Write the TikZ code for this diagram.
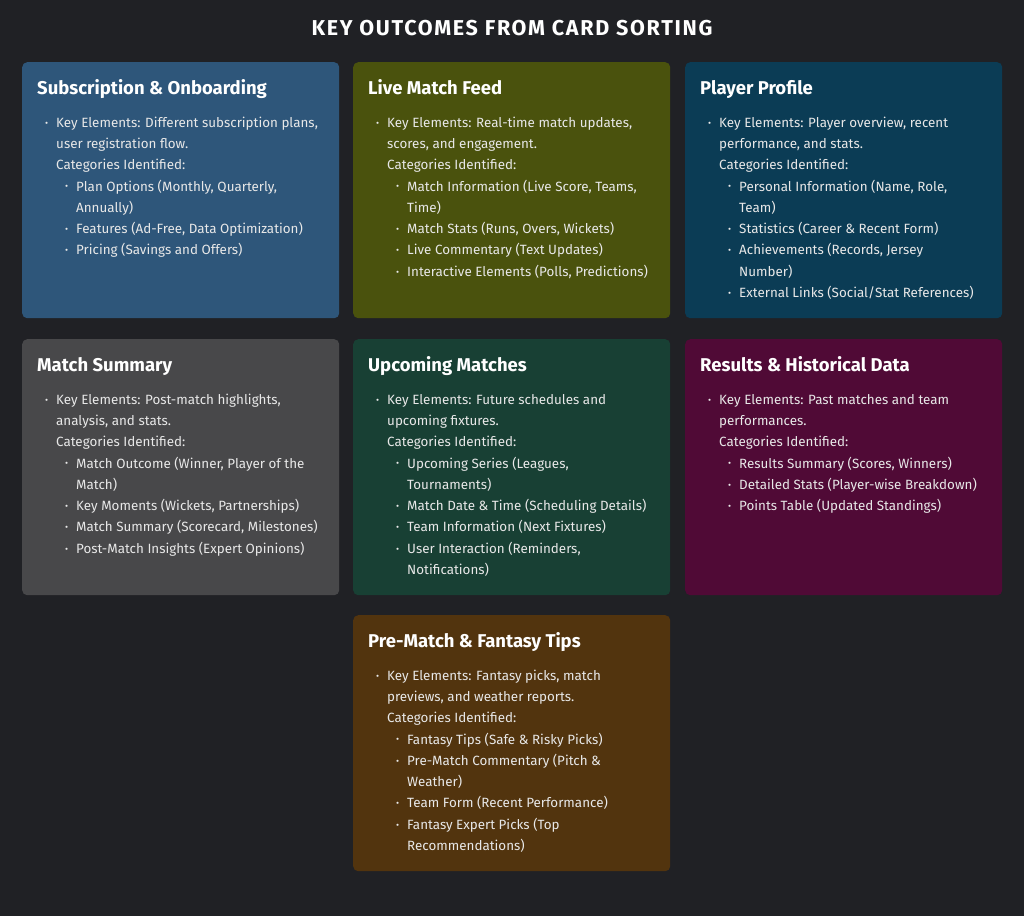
\documentclass[tikz,border=0pt]{standalone}
\usepackage{fontspec}
\setmainfont{Fira Sans}
\definecolor{pagebg}{RGB}{32,33,37}
\definecolor{cardblue}{RGB}{46,86,122}
\definecolor{cardolive}{RGB}{74,82,13}
\definecolor{cardteal}{RGB}{11,60,85}
\definecolor{cardgray}{RGB}{72,72,74}
\definecolor{cardgreen}{RGB}{24,64,52}
\definecolor{cardwine}{RGB}{80,10,54}
\definecolor{cardbrown}{RGB}{82,52,14}
\definecolor{cardtext}{RGB}{232,232,232}
\usetikzlibrary{calc}
\usetikzlibrary{positioning}
\newcommand\lvlone{\strut\makebox[11pt][l]{\raisebox{0.15ex}{\scalebox{0.7}{•}}}}
\newcommand\contone{\hspace*{11pt}}
\newcommand\lvltwo{\hspace*{20pt}\makebox[11pt][l]{\raisebox{0.15ex}{\scalebox{0.7}{•}}}}
\newcommand\conttwo{\hspace*{31pt}}
\tikzset{
  card/.style={rounded corners=5pt, inner sep=0pt, minimum width=317pt, minimum height=256pt, anchor=north west},
  cardhead/.style={anchor=base west, inner sep=0pt, text=white, font=\fontsize{18.5}{22}\selectfont\bfseries},
  cardbody/.style={anchor=north west, inner sep=0pt, align=left, text=cardtext, font=\fontsize{13.4}{21.3}\selectfont},
}

\begin{document}
\begin{tikzpicture}[x=1pt, y=-1pt]
  \fill [pagebg] (0,0) rectangle (1024,916);
  \useasboundingbox (0,0) rectangle (1024,916);

  \node [text=white, font=\fontsize{21.5}{26}\selectfont\bfseries\addfontfeature{LetterSpace=8}] (title) at (512,28) {KEY OUTCOMES FROM CARD SORTING};

  % cards
  \node [card, fill=cardblue] (sub) at (22,62) {};
  \node [card, fill=cardolive] (live) at (353,62) {};
  \node [card, fill=cardteal] (player) at (685,62) {};
  \node [card, fill=cardgray] (summary) at (22,339) {};
  \node [card, fill=cardgreen] (upcoming) at (353,339) {};
  \node [card, fill=cardwine] (results) at (685,339) {};
  \node [card, fill=cardbrown] (prematch) at (353,615) {};

  % headings
  \node [cardhead] (subHead) at ($(sub.north west)+(15,32)$) {Subscription \& Onboarding};
  \node [cardhead] (liveHead) at ($(live.north west)+(15,32)$) {Live Match Feed};
  \node [cardhead] (playerHead) at ($(player.north west)+(15,32)$) {Player Profile};
  \node [cardhead] (summaryHead) at ($(summary.north west)+(15,32)$) {Match Summary};
  \node [cardhead] (upcomingHead) at ($(upcoming.north west)+(15,32)$) {Upcoming Matches};
  \node [cardhead] (resultsHead) at ($(results.north west)+(15,32)$) {Results \& Historical Data};
  \node [cardhead] (prematchHead) at ($(prematch.north west)+(15,32)$) {Pre-Match \& Fantasy Tips};

  % bullet lists
  \node [cardbody] (subBody) at ($(sub.north west)+(23,50)$) {%
    \lvlone Key Elements: Different subscription plans,\\
    \contone user registration flow.\\
    \contone Categories Identified:\\
    \lvltwo Plan Options (Monthly, Quarterly,\\
    \conttwo Annually)\\
    \lvltwo Features (Ad-Free, Data Optimization)\\
    \lvltwo Pricing (Savings and Offers)};
  \node [cardbody] (liveBody) at ($(live.north west)+(23,50)$) {%
    \lvlone Key Elements: Real-time match updates,\\
    \contone scores, and engagement.\\
    \contone Categories Identified:\\
    \lvltwo Match Information (Live Score, Teams,\\
    \conttwo Time)\\
    \lvltwo Match Stats (Runs, Overs, Wickets)\\
    \lvltwo Live Commentary (Text Updates)\\
    \lvltwo Interactive Elements (Polls, Predictions)};
  \node [cardbody] (playerBody) at ($(player.north west)+(23,50)$) {%
    \lvlone Key Elements: Player overview, recent\\
    \contone performance, and stats.\\
    \contone Categories Identified:\\
    \lvltwo Personal Information (Name, Role,\\
    \conttwo Team)\\
    \lvltwo Statistics (Career \& Recent Form)\\
    \lvltwo Achievements (Records, Jersey\\
    \conttwo Number)\\
    \lvltwo External Links (Social/Stat References)};
  \node [cardbody] (summaryBody) at ($(summary.north west)+(23,50)$) {%
    \lvlone Key Elements: Post-match highlights,\\
    \contone analysis, and stats.\\
    \contone Categories Identified:\\
    \lvltwo Match Outcome (Winner, Player of the\\
    \conttwo Match)\\
    \lvltwo Key Moments (Wickets, Partnerships)\\
    \lvltwo Match Summary (Scorecard, Milestones)\\
    \lvltwo Post-Match Insights (Expert Opinions)};
  \node [cardbody] (upcomingBody) at ($(upcoming.north west)+(23,50)$) {%
    \lvlone Key Elements: Future schedules and\\
    \contone upcoming fixtures.\\
    \contone Categories Identified:\\
    \lvltwo Upcoming Series (Leagues,\\
    \conttwo Tournaments)\\
    \lvltwo Match Date \& Time (Scheduling Details)\\
    \lvltwo Team Information (Next Fixtures)\\
    \lvltwo User Interaction (Reminders,\\
    \conttwo Notifications)};
  \node [cardbody] (resultsBody) at ($(results.north west)+(23,50)$) {%
    \lvlone Key Elements: Past matches and team\\
    \contone performances.\\
    \contone Categories Identified:\\
    \lvltwo Results Summary (Scores, Winners)\\
    \lvltwo Detailed Stats (Player-wise Breakdown)\\
    \lvltwo Points Table (Updated Standings)};
  \node [cardbody] (prematchBody) at ($(prematch.north west)+(23,50)$) {%
    \lvlone Key Elements: Fantasy picks, match\\
    \contone previews, and weather reports.\\
    \contone Categories Identified:\\
    \lvltwo Fantasy Tips (Safe \& Risky Picks)\\
    \lvltwo Pre-Match Commentary (Pitch \&\\
    \conttwo Weather)\\
    \lvltwo Team Form (Recent Performance)\\
    \lvltwo Fantasy Expert Picks (Top\\
    \conttwo Recommendations)};
\end{tikzpicture}
\end{document}
